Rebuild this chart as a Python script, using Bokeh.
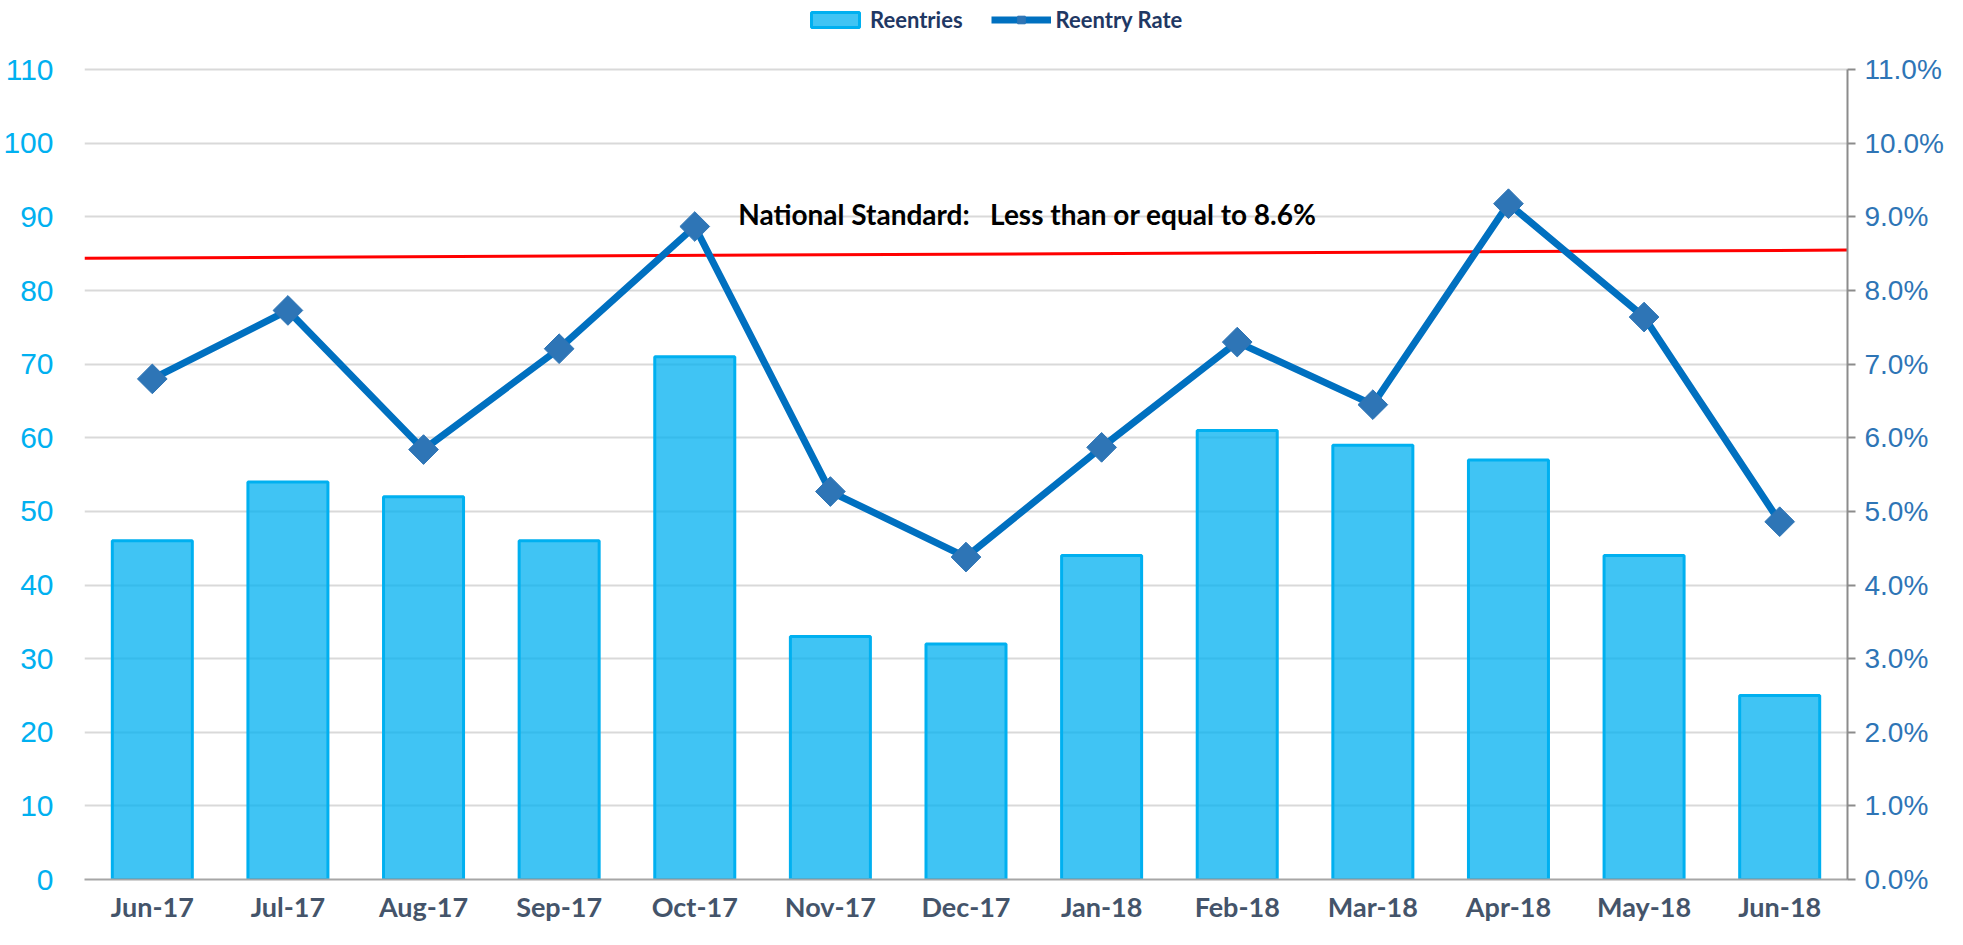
import math
from bokeh.plotting import figure
from bokeh.models import (Range1d, LinearAxis, FixedTicker, NumeralTickFormatter,
                          Legend, LegendItem, Label, ColumnDataSource)
from bokeh.embed import file_html
from bokeh.resources import INLINE

# ---------------- data ----------------
months = ["Jun-17", "Jul-17", "Aug-17", "Sep-17", "Oct-17", "Nov-17", "Dec-17",
          "Jan-18", "Feb-18", "Mar-18", "Apr-18", "May-18", "Jun-18"]
reentries = [46, 54, 52, 46, 71, 33, 32, 44, 61, 59, 57, 44, 25]
reentry_rate = [0.0680, 0.0773, 0.0584, 0.0721, 0.0887, 0.0527, 0.0438,
                0.0587, 0.0730, 0.0645, 0.0918, 0.0764, 0.0486]
left_ticks = list(range(0, 111, 10))
right_ticks = [i / 100 for i in range(0, 12)]
standard_text = "National Standard:\u00a0\u00a0\u00a0Less than or equal to 8.6%"
standard_line = [0.0844, 0.0855]   # drawn reference line (start, end)

# ---------------- figure ----------------
n = len(months)
x_idx = list(range(n))
src = ColumnDataSource(dict(x=x_idx, month=months, reentries=reentries, rate=reentry_rate))

# headroom above the 110 gridline holds the legend
top_left = 119.4
top_rate = top_left / 1000.0

p = figure(width=1947, height=929, output_backend="svg", toolbar_location=None,
           x_range=Range1d(-0.5, n - 0.5), y_range=Range1d(0, top_left),
           min_border_left=77, min_border_right=100, min_border_top=0, min_border_bottom=50)
p.extra_y_ranges = {"rate": Range1d(0, top_rate)}
p.outline_line_color = None
p.background_fill_color = "white"
p.border_fill_color = "white"

# grid
p.xgrid.grid_line_color = None
p.ygrid.ticker = FixedTicker(ticks=left_ticks)
p.ygrid.grid_line_color = "#D9D9D9"
p.ygrid.grid_line_width = 2

# left axis
ya = p.yaxis[0]
ya.ticker = FixedTicker(ticks=left_ticks)
ya.axis_line_color = None
ya.major_tick_line_color = None
ya.minor_tick_line_color = None
ya.major_label_standoff = 25
ya.major_label_text_color = "#00B0F0"
ya.major_label_text_font = "Liberation Sans"
ya.major_label_text_font_size = "30px"

# right axis
ra = LinearAxis(y_range_name="rate", ticker=FixedTicker(ticks=right_ticks),
                formatter=NumeralTickFormatter(format="0.0%"),
                bounds=(right_ticks[0], right_ticks[-1]))
ra.axis_line_color = "#8C8C8C"
ra.axis_line_width = 2
ra.major_tick_line_color = "#8C8C8C"
ra.major_tick_line_width = 2
ra.major_tick_out = 8
ra.major_tick_in = 0
ra.minor_tick_line_color = None
ra.major_label_standoff = 9
ra.major_label_text_color = "#2E75B6"
ra.major_label_text_font = "Liberation Sans"
ra.major_label_text_font_size = "28px"
p.add_layout(ra, "right")

# bottom axis
xa = p.xaxis[0]
xa.ticker = FixedTicker(ticks=x_idx)
xa.major_label_overrides = {i: m for i, m in zip(x_idx, months)}
xa.axis_line_color = "#A6A6A6"
xa.axis_line_width = 2
xa.major_tick_line_color = None
xa.minor_tick_line_color = None
xa.major_label_standoff = 4
xa.major_label_text_color = "#44546A"
xa.major_label_text_font = "Lato"
xa.major_label_text_font_style = "bold"
xa.major_label_text_font_size = "27px"

# bars
bars = p.vbar(x="x", top="reentries", width=0.59, source=src,
              fill_color="#00B0F0", fill_alpha=0.75,
              line_color="#00B0F0", line_width=3)

# national standard line
p.segment(x0=[-0.5], y0=[standard_line[0]], x1=[n - 0.5], y1=[standard_line[1]],
          y_range_name="rate", line_color="#FF0000", line_width=3)

# rate line
ln = p.line("x", "rate", source=src, y_range_name="rate",
            line_color="#0070C0", line_width=7)
mk = p.scatter("x", "rate", source=src, y_range_name="rate", marker="square",
               angle=math.pi / 4, size=21, fill_color="#2E75B6", line_color="#2E75B6")

# annotation text
p.add_layout(Label(x=4.32, y=90.4, text=standard_text, text_baseline="middle",
                   text_font="Lato", text_font_style="bold", text_font_size="28px",
                   text_color="black"))

# legend
legend = Legend(items=[LegendItem(label="Reentries", renderers=[bars]),
                       LegendItem(label="Reentry Rate", renderers=[ln, mk])],
                orientation="horizontal", location=(721, 846),
                glyph_width=60, glyph_height=19, label_standoff=5, spacing=28,
                padding=4, margin=0,
                label_text_font="Lato", label_text_font_style="bold",
                label_text_font_size="22px", label_text_color="#1F3864",
                border_line_color=None, background_fill_alpha=0)
p.add_layout(legend, "center")

open("out.html", "w").write(file_html(p, INLINE))
